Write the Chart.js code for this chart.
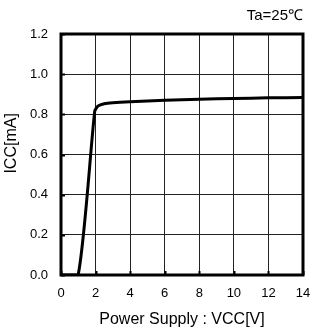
<!DOCTYPE html>
<html>
<head>
<meta charset="utf-8">
<script src="https://cdn.jsdelivr.net/npm/chart.js@4"></script>
<style>
  html, body { margin: 0; padding: 0; background: #fff; }
  #wrap { width: 310px; height: 333px; }
</style>
</head>
<body>
<div id="wrap"><canvas id="iccChart" width="310" height="333"></canvas></div>
<script>
// values
const vcc = [0, 1, 1.95, 2.15, 2.5, 3, 4, 6, 8, 10, 12, 14];
const icc = [0, 0.005, 0.815, 0.842, 0.853, 0.858, 0.863, 0.87, 0.875, 0.879, 0.882, 0.884];
const xTicks = [0, 2, 4, 6, 8, 10, 12, 14];
const yTicks = [0.0, 0.2, 0.4, 0.6, 0.8, 1.0, 1.2];

const fontName = "'Liberation Sans', Arial, sans-serif";

// thick frame round the plot area, with short inner tick marks
const framePlugin = {
  id: "frame",
  afterDraw(chart) {
    const { ctx, chartArea, scales } = chart;
    ctx.save();
    ctx.strokeStyle = "#000";
    ctx.lineWidth = 2;
    ctx.beginPath();
    xTicks.forEach((v) => {
      const px = Math.round(scales.x.getPixelForValue(v)) + 0.5;
      ctx.moveTo(px, chartArea.bottom);
      ctx.lineTo(px, chartArea.bottom - 4);
    });
    yTicks.forEach((v) => {
      const py = Math.round(scales.y.getPixelForValue(v)) + 0.5;
      ctx.moveTo(chartArea.left, py);
      ctx.lineTo(chartArea.left + 4, py);
    });
    ctx.stroke();
    ctx.lineWidth = 3;
    ctx.strokeRect(chartArea.left, chartArea.top, chartArea.right - chartArea.left, chartArea.bottom - chartArea.top);
    ctx.restore();
  },
};

const ctx = document.getElementById("iccChart").getContext("2d");
new Chart(ctx, {
  type: "line",
  data: {
    datasets: [
      {
        data: vcc.map((v, i) => ({ x: v, y: icc[i] })),
        borderColor: "#000",
        borderWidth: 3,
        pointRadius: 0,
        tension: 0.2,
        fill: false,
      },
    ],
  },
  options: {
    responsive: false,
    animation: false,
    layout: { padding: { top: 0, right: 7, bottom: 0, left: 0 } },
    plugins: {
      legend: { display: false },
      tooltip: { enabled: false },
      title: {
        display: true,
        text: "Ta=25℃",
        align: "end",
        color: "#000",
        font: { family: fontName, size: 15, weight: "normal" },
        padding: { top: 7, bottom: 9 },
      },
    },
    scales: {
      x: {
        type: "linear",
        min: 0,
        max: 14,
        afterBuildTicks: (scale) => {
          scale.ticks = xTicks.map((v) => ({ value: v }));
        },
        afterFit: (scale) => {
          scale.height = 58;
          scale.paddingRight = 0;
        },
        grid: { color: "#222", lineWidth: 1, drawTicks: false },
        border: { display: false },
        ticks: {
          color: "#000",
          padding: 11,
          font: { family: fontName, size: 13 },
        },
        title: {
          display: true,
          text: "Power Supply : VCC[V]",
          color: "#000",
          font: { family: fontName, size: 16 },
          padding: { top: 0, bottom: 4 },
        },
      },
      y: {
        min: 0,
        max: 1.2,
        afterBuildTicks: (scale) => {
          scale.ticks = yTicks.map((v) => ({ value: v }));
        },
        afterFit: (scale) => {
          scale.width = 61;
        },
        grid: { color: "#222", lineWidth: 1, drawTicks: false },
        border: { display: false },
        ticks: {
          color: "#000",
          padding: 13,
          font: { family: fontName, size: 13 },
          callback: (v) => v.toFixed(1),
        },
        title: {
          display: true,
          text: "     ICC[mA]",
          color: "#000",
          font: { family: fontName, size: 16 },
          padding: { top: 2 },
        },
      },
    },
  },
  plugins: [framePlugin],
});
</script>
</body>
</html>
